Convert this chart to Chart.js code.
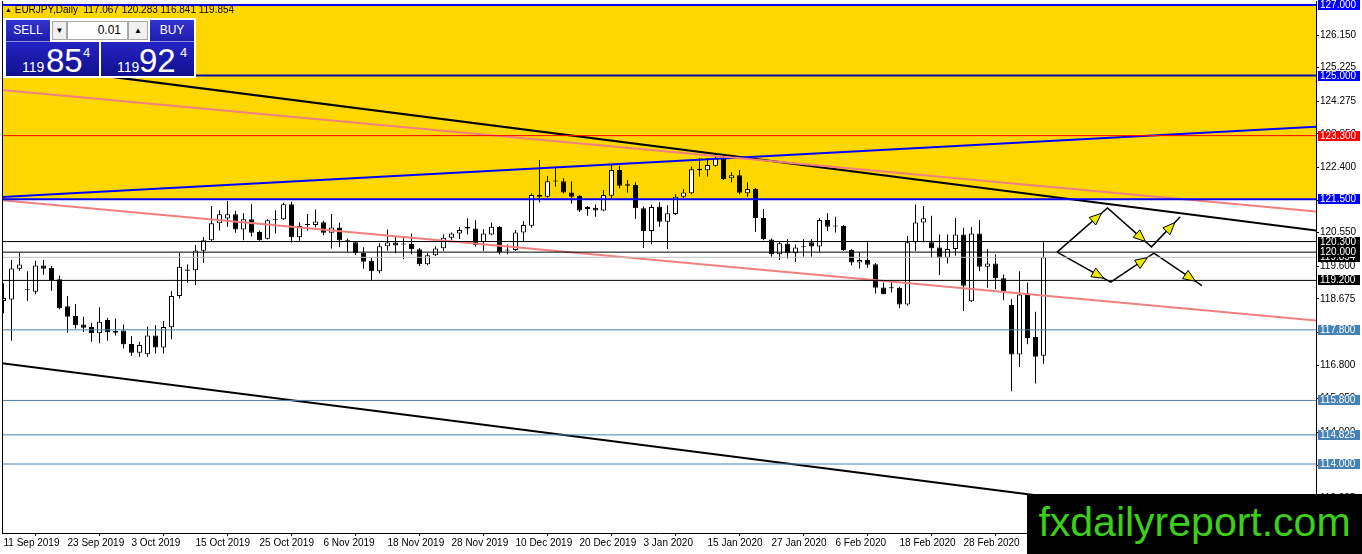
<!DOCTYPE html>
<html>
<head>
<meta charset="utf-8">
<title>EURJPY Daily</title>
<script src="https://cdn.jsdelivr.net/npm/chart.js@4.4.1/dist/chart.umd.min.js"></script>
<style>
    html, body { margin: 0; padding: 0; background: #fff; }
    #wrap { position: relative; width: 1362px; height: 554px; overflow: hidden;
            font-family: "Liberation Sans", Arial, sans-serif; }
    #c { position: absolute; left: 0; top: 0; }
    .abs { position: absolute; }
    #title { left: 5px; top: 4px; font-size: 10px; line-height: 12px; color: #000; white-space: pre; }
    #title .tri { font-size: 7px; vertical-align: 1px; }
    #panel { left: 3px; top: 18px; width: 193px; height: 60px; background: #fff; }
    .btn { top: 20px; width: 44px; height: 22px; color: #fff; font-size: 12px; line-height: 21px; text-align: center;
           background: linear-gradient(#3434d2, #1e1eac); border-bottom: 1px solid #8c8ce0; box-sizing: border-box; }
    .ctl { top: 21px; height: 19px; box-sizing: border-box; border: 1px solid #a8a8a8; background: #f0f0f0;
           font-size: 8px; line-height: 17px; text-align: center; color: #000; }
    #lot { left: 67px; width: 61px; background: #fff; font-size: 12px; text-align: right; padding-right: 6px; }
    .quote { top: 42px; width: 93px; height: 34px; color: #fff; overflow: hidden;
             background: linear-gradient(#2424c4, #10108e); }
    .quote span { position: absolute; line-height: 1; }
    .q_big { font-size: 33px; top: 2px; }
    .q_small { font-size: 14px; top: 18px; }
    .q_pip { font-size: 13px; top: 4px; }
    #mark { left: 1027px; top: 494px; width: 335px; height: 60px; background: #000; color: #3ccf18;
            font-size: 41px; line-height: 56px; text-align: center; font-family: "Liberation Sans", Arial, sans-serif; }
</style>
</head>
<body>
<div id="wrap">
    <canvas id="c" width="1362" height="554"></canvas>
    <div id="title" class="abs"><span class="tri">&#9650;</span> EURJPY,Daily  117.067 120.283 116.841 119.854</div>
    <div id="panel" class="abs"></div>
    <div class="abs btn" style="left:6px">SELL</div>
    <div class="abs ctl" style="left:52px;width:15px">&#9660;</div>
    <div id="lot" class="abs ctl">0.01</div>
    <div class="abs ctl" style="left:128px;width:20px">&#9650;</div>
    <div class="abs btn" style="left:150px">BUY</div>
    <div class="abs quote" style="left:6px">
        <span class="q_small" style="left:16px">119</span>
        <span class="q_big" style="left:40px">85</span>
        <span class="q_pip" style="left:77px">4</span>
    </div>
    <div class="abs quote" style="left:101px">
        <span class="q_small" style="left:16px">119</span>
        <span class="q_big" style="left:38px">92</span>
        <span class="q_pip" style="left:79px">4</span>
    </div>
    <div id="mark" class="abs">fxdailyreport.com</div>
</div>
<script>
    'use strict';

    // ---- data ----
    const date_labels = ['11 Sep 2019', '23 Sep 2019', '3 Oct 2019', '15 Oct 2019', '25 Oct 2019',
        '6 Nov 2019', '18 Nov 2019', '28 Nov 2019', '10 Dec 2019', '20 Dec 2019', '3 Jan 2020',
        '15 Jan 2020', '27 Jan 2020', '6 Feb 2020', '18 Feb 2020', '28 Feb 2020'];
    const date_step = 8;  // bars between two date labels

    const opens = [
        118.62, 118.66, 119.53, 118.92, 118.88, 119.62, 119.56, 119.23, 118.47, 118.19,
        117.95, 117.88, 117.70, 118.08, 117.77, 117.78, 117.40, 117.15, 117.11, 117.64,
        117.30, 117.87, 118.76, 119.51, 119.49, 120.04, 120.34, 120.82, 120.95, 121.07,
        120.64, 120.93, 120.57, 120.38, 120.90, 120.93, 121.36, 120.42, 120.80, 120.77,
        120.85, 120.55, 120.70, 120.34, 120.28, 119.98, 119.76, 119.46, 120.17, 120.27,
        120.22, 120.23, 120.08, 119.66, 119.91, 120.11, 120.41, 120.53, 120.71, 120.67,
        120.29, 120.50, 120.71, 120.05, 120.06, 120.56, 120.75, 121.62, 121.57, 122.02,
        122.01, 121.69, 121.60, 121.28, 121.26, 121.18, 121.60, 122.33, 121.92, 121.90,
        121.24, 120.60, 121.29, 120.86, 121.08, 121.57, 121.67, 122.36, 122.32, 122.45,
        122.66, 122.09, 122.18, 121.67, 121.79, 120.97, 120.36, 119.94, 120.24, 119.97,
        120.14, 120.28, 120.16, 120.91, 120.73, 120.74, 120.06, 119.71, 119.78, 119.66,
        119.00, 118.99, 118.99, 118.52, 120.28, 120.84, 120.28, 120.13, 119.84, 120.09,
        120.50, 118.61, 120.53, 119.59, 119.68, 119.26, 118.50, 117.10, 118.83, 117.60,
        117.067];
    const highs = [
        119.12, 119.78, 119.98, 119.46, 119.76, 119.78, 119.61, 119.34, 118.76, 118.53,
        118.17, 118.00, 118.44, 118.14, 118.12, 117.95, 117.62, 117.46, 117.89, 117.93,
        118.05, 118.90, 119.98, 119.65, 120.20, 120.43, 121.31, 121.19, 121.45, 121.17,
        121.10, 121.36, 120.61, 120.93, 121.19, 121.40, 121.43, 120.85, 121.08, 121.21,
        120.89, 121.08, 120.83, 120.39, 120.29, 120.14, 119.85, 120.25, 120.64, 120.46,
        120.44, 120.53, 120.12, 119.98, 120.17, 120.50, 120.56, 120.71, 120.96, 120.90,
        120.65, 120.84, 120.74, 120.22, 120.63, 120.88, 121.67, 122.61, 122.16, 122.42,
        122.09, 122.01, 121.62, 121.31, 121.35, 121.76, 122.47, 122.45, 122.04, 121.98,
        121.29, 121.35, 121.41, 121.33, 121.64, 121.79, 122.42, 122.67, 122.66, 122.80,
        122.73, 122.26, 122.33, 121.98, 121.82, 121.22, 120.39, 120.29, 120.37, 120.22,
        120.37, 120.37, 120.96, 121.10, 121.00, 120.77, 120.09, 119.99, 120.28, 119.69,
        119.14, 119.14, 119.02, 120.46, 121.35, 121.31, 121.03, 120.50, 120.50, 120.97,
        120.69, 120.71, 120.91, 120.09, 119.94, 119.37, 118.67, 119.46, 119.14, 118.31,
        120.283];
    const lows = [
        118.27, 117.49, 119.47, 118.62, 118.81, 119.36, 118.91, 118.38, 117.72, 117.84,
        117.74, 117.46, 117.42, 117.49, 117.64, 117.27, 117.06, 117.04, 117.04, 117.13,
        117.13, 117.53, 118.69, 119.14, 119.07, 119.70, 120.29, 120.61, 120.72, 120.55,
        120.34, 120.44, 120.32, 120.36, 120.53, 120.91, 120.27, 120.32, 120.61, 120.70,
        120.48, 120.10, 120.14, 120.01, 119.92, 119.53, 119.21, 119.40, 120.04, 119.97,
        119.80, 119.94, 119.61, 119.63, 119.89, 120.03, 120.34, 120.37, 120.50, 120.15,
        120.03, 120.48, 119.94, 119.94, 120.03, 120.29, 120.69, 121.41, 121.54, 121.85,
        121.66, 121.38, 121.14, 121.03, 121.00, 121.16, 121.52, 121.81, 121.69, 120.94,
        120.12, 120.22, 120.72, 120.09, 121.05, 121.52, 121.64, 122.14, 122.14, 122.42,
        122.04, 121.98, 121.64, 121.57, 120.58, 120.34, 119.87, 119.78, 119.82, 119.73,
        119.87, 119.87, 120.01, 120.60, 120.56, 120.03, 119.63, 119.54, 119.56, 118.83,
        118.81, 118.86, 118.42, 118.48, 120.03, 120.28, 119.84, 119.35, 119.68, 119.90,
        118.33, 118.59, 119.46, 118.99, 118.95, 118.64, 116.06, 116.75, 117.39, 116.28,
        116.841];
    const closes = [
        118.70, 119.54, 119.65, 118.94, 119.62, 119.53, 119.21, 118.42, 118.17, 117.93,
        117.86, 117.70, 118.03, 117.73, 117.72, 117.39, 117.15, 117.37, 117.64, 117.30,
        117.88, 118.76, 119.59, 119.47, 120.05, 120.34, 120.82, 121.07, 121.07, 120.64,
        120.93, 120.55, 120.34, 120.90, 120.92, 121.36, 120.42, 120.74, 120.77, 120.87,
        120.55, 120.70, 120.34, 120.29, 119.97, 119.73, 119.46, 120.17, 120.27, 120.19,
        120.23, 120.08, 119.66, 119.91, 120.10, 120.41, 120.53, 120.63, 120.67, 120.20,
        120.53, 120.72, 120.00, 120.07, 120.56, 120.77, 121.62, 121.57, 122.01, 122.00,
        121.69, 121.57, 121.18, 121.22, 121.18, 121.62, 122.33, 121.88, 121.88, 121.24,
        120.60, 121.28, 120.86, 121.10, 121.57, 121.69, 122.35, 122.32, 122.47, 122.66,
        122.07, 122.18, 121.68, 121.79, 120.97, 120.37, 119.94, 120.25, 119.97, 120.13,
        120.15, 120.16, 120.91, 120.72, 120.75, 120.06, 119.71, 119.78, 119.64, 118.99,
        118.81, 118.98, 118.52, 120.28, 120.84, 120.96, 120.11, 119.84, 120.09, 120.50,
        119.05, 120.53, 119.59, 119.68, 119.26, 118.88, 117.10, 118.80, 117.57, 117.04,
        119.854];

    const price_ticks = [126.150, 125.225, 124.275, 123.350, 122.400, 121.475, 120.550,
        119.600, 118.675, 117.725, 116.800, 115.850, 114.900, 113.950, 113.025];

    // horizontal levels: 127 / 125 / 123.3 / 121.5 / 120.3 / 120 / bid / 119.2 / 117.8 / 115.8 / 114.825 / 114
    const level_values = [127.000, 125.000, 123.300, 121.500, 120.300, 120.000, 119.854,
        119.200, 117.800, 115.800, 114.825, 114.000];
    const zone_top = 127.000;
    const zone_bottom = 121.500;

    // trend lines as [bar index, price] pairs
    const trend_black_hi = [[-1, 125.384], [165, 120.583]];
    const trend_black_lo = [[-1, 116.878], [131, 113.060]];
    const trend_pink_hi = [[-1, 124.606], [165, 121.132]];
    const trend_pink_lo = [[-1, 121.490], [165, 118.045]];
    const trend_blue = [[-1, 121.555], [165, 123.565]];
    const path_up = [[131.7, 120.00], [138.0, 121.25], [143.5, 120.15], [147.1, 121.00]];
    const path_down = [[131.7, 120.00], [138.4, 119.15], [143.8, 119.97], [149.8, 119.05]];

    // ---- styles ----
    const font_family = '"Liberation Sans", Arial, sans-serif';
    const x_range = [-0.1875, 164.0625];
    const y_range = [112.046, 127.113];
    const steel = '#4682b4';
    const level_styles = [
        {line: '#0000ff', width: 2, tag: '#0000ff'},
        {line: '#0a0aa8', width: 2, tag: '#0000ff'},
        {line: '#ff0000', width: 1, tag: '#ff0000'},
        {line: '#0000ff', width: 2, tag: '#0000ff'},
        {line: '#000000', width: 1, tag: '#000000'},
        {line: '#000000', width: 1, tag: '#000000'},
        {line: '#c0c0c0', width: 1, tag: '#000000'},
        {line: '#000000', width: 1, tag: '#000000'},
        {line: steel, width: 1, tag: steel},
        {line: steel, width: 1, tag: steel},
        {line: steel, width: 1, tag: steel},
        {line: steel, width: 1, tag: steel}
    ];
    const tag_order = [6, 0, 1, 2, 3, 5, 4, 7, 8, 9, 10, 11];

    function to_points(pairs) {
        return pairs.map(p => ({x: p[0], y: p[1]}));
    }

    function line_set(pairs, color, width, extra) {
        return Object.assign({
            type: 'line',
            data: to_points(pairs),
            borderColor: color,
            borderWidth: width,
            pointRadius: 0,
            fill: false,
            tension: 0,
            order: 0
        }, extra || {});
    }

    function draw_head(ctx, a, b) {
        let dx = b.x - a.x,
            dy = b.y - a.y,
            len = Math.hypot(dx, dy),
            ux = dx / len,
            uy = dy / len,
            tx = b.x - ux * 8,
            ty = b.y - uy * 8,
            bx = tx - ux * 12,
            by = ty - uy * 12;
        ctx.beginPath();
        ctx.moveTo(tx, ty);
        ctx.lineTo(bx - uy * 5, by + ux * 5);
        ctx.lineTo(bx + uy * 5, by - ux * 5);
        ctx.closePath();
        ctx.fill();
        ctx.stroke();
    }

    const overlay = {
        id: 'overlay',
        afterDatasetsDraw(chart) {
            let ctx = chart.ctx;
            ctx.save();
            ctx.fillStyle = '#e8e800';
            ctx.strokeStyle = '#000';
            ctx.lineWidth = 1;
            chart.data.datasets.forEach((ds, k) => {
                if (!ds.arrow_path) {
                    return;
                }
                let pts = chart.getDatasetMeta(k).data;
                for (let j = 1; j < pts.length; j++) {
                    draw_head(ctx, pts[j - 1], pts[j]);
                }
            });
            ctx.restore();
        },
        afterDraw(chart) {
            let ctx = chart.ctx,
                area = chart.chartArea,
                y_scale = chart.scales.y;
            ctx.save();
            ctx.strokeStyle = '#000';
            ctx.lineWidth = 1;
            ctx.beginPath();
            ctx.moveTo(area.left + 0.5, area.top);
            ctx.lineTo(area.left + 0.5, area.bottom);
            ctx.stroke();
            ctx.font = '10px ' + font_family;
            ctx.textBaseline = 'middle';
            tag_order.forEach(k => {
                let y = Math.round(y_scale.getPixelForValue(level_values[k]));
                ctx.fillStyle = level_styles[k].tag;
                ctx.fillRect(area.right + 2, y - 5, 42, 10);
                ctx.fillStyle = '#fff';
                ctx.fillText(level_values[k].toFixed(3), area.right + 4, y + 0.5);
            });
            ctx.restore();
        }
    };

    function build_datasets() {
        let sets = [];
        sets.push({
            type: 'line',
            data: [{x: -1, y: zone_top}, {x: 165, y: zone_top}],
            borderWidth: 0,
            pointRadius: 0,
            backgroundColor: '#ffd700',
            fill: {value: zone_bottom},
            order: 10
        });
        sets.push({
            type: 'bar',
            data: highs.map((h, i) => ({x: i, y: [lows[i], h]})),
            backgroundColor: '#000',
            borderWidth: 0,
            barThickness: 1,
            grouped: false,
            inflateAmount: 0,
            order: 3
        });
        sets.push({
            type: 'bar',
            data: opens.map((o, i) => ({x: i, y: [o, closes[i]]})),
            backgroundColor: opens.map((o, i) => closes[i] >= o ? '#fff' : '#000'),
            borderColor: '#000',
            borderWidth: 1,
            borderSkipped: false,
            barThickness: 5,
            minBarLength: 1,
            grouped: false,
            inflateAmount: 0,
            order: 2
        });
        level_values.forEach((v, k) => {
            sets.push(line_set([[-1, v], [165, v]], level_styles[k].line, level_styles[k].width));
        });
        sets.push(line_set(trend_pink_hi, '#f08080', 2));
        sets.push(line_set(trend_pink_lo, '#f08080', 2));
        sets.push(line_set(trend_blue, '#0000ff', 2));
        sets.push(line_set(trend_black_hi, '#000', 2));
        sets.push(line_set(trend_black_lo, '#000', 2));
        sets.push(line_set(path_up, '#000', 1.5, {arrow_path: true}));
        sets.push(line_set(path_down, '#000', 1.5, {arrow_path: true}));
        return sets;
    }

    Chart.defaults.font.family = font_family;
    Chart.defaults.font.size = 10;
    Chart.defaults.color = '#000';

    new Chart(document.getElementById('c'), {
        type: 'bar',
        data: {datasets: build_datasets()},
        options: {
            responsive: false,
            devicePixelRatio: 1,
            animation: false,
            events: [],
            layout: {padding: {left: 2, top: 1, right: 0, bottom: 0}},
            plugins: {legend: {display: false}, tooltip: {enabled: false}},
            scales: {
                x: {
                    type: 'linear',
                    min: x_range[0],
                    max: x_range[1],
                    offset: false,
                    bounds: 'data',
                    grid: {drawOnChartArea: false, drawTicks: true, tickLength: 3, color: '#000'},
                    border: {display: true, color: '#000'},
                    ticks: {
                        autoSkip: false,
                        maxRotation: 0,
                        minRotation: 0,
                        align: 'start',
                        padding: 1,
                        callback: (value, index) => date_labels[index]
                    },
                    afterBuildTicks: (scale) => {
                        scale.ticks = date_labels.map((_, k) => ({value: k * date_step}));
                    },
                    afterFit: (scale) => {
                        scale.height = 21;
                        scale.paddingLeft = 0;
                        scale.paddingRight = 0;
                    }
                },
                y: {
                    type: 'linear',
                    position: 'right',
                    min: y_range[0],
                    max: y_range[1],
                    bounds: 'data',
                    grid: {drawOnChartArea: false, drawTicks: true, tickLength: 3, color: '#000'},
                    border: {display: true, color: '#000'},
                    ticks: {
                        padding: 1,
                        callback: (value) => Number(value).toFixed(3)
                    },
                    afterBuildTicks: (scale) => {
                        scale.ticks = price_ticks.map(v => ({value: v}));
                    },
                    afterFit: (scale) => {
                        scale.width = 46;
                        scale.paddingTop = 0;
                        scale.paddingBottom = 0;
                    }
                }
            }
        },
        plugins: [overlay]
    });
</script>
</body>
</html>
